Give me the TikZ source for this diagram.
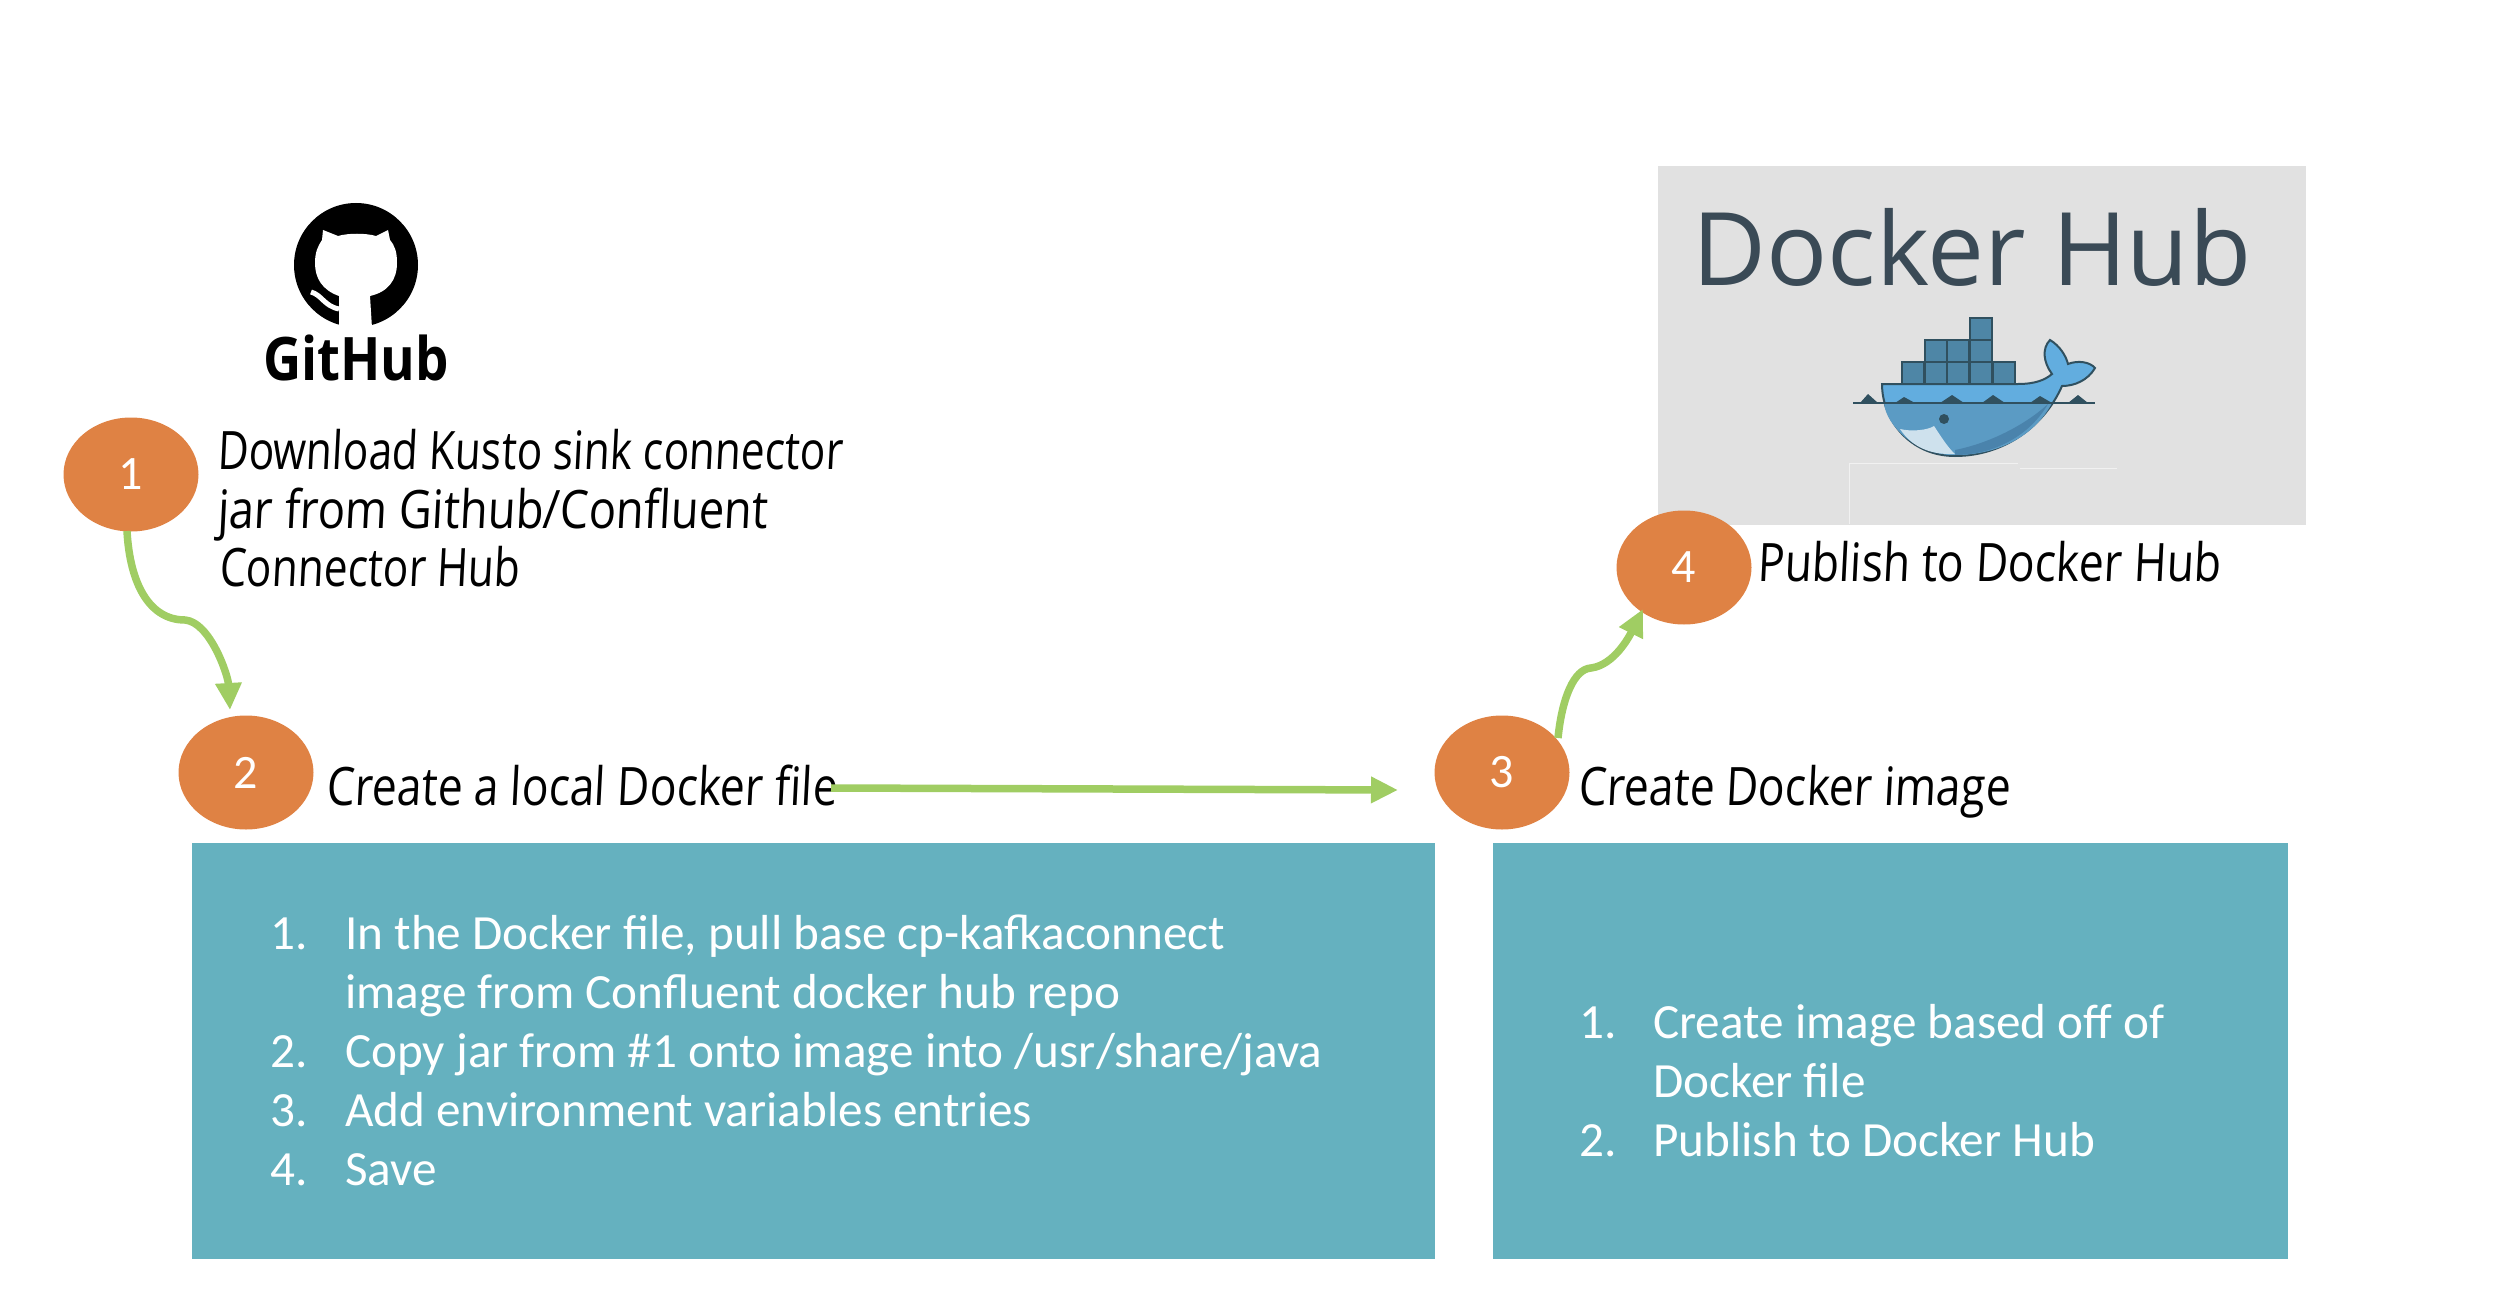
\documentclass[tikz,border=0pt]{standalone}
\usepackage{fontspec}
\usetikzlibrary{shapes.geometric,arrows.meta}
\setmainfont{Carlito}
\newfontfamily\handfont[FakeSlant=0.05,FakeStretch=0.80]{Open Sans}
\newfontfamily\handfontb[FakeSlant=0.05,FakeStretch=0.84]{Open Sans}
\newfontfamily\handfontc[FakeSlant=0.05,FakeStretch=0.857]{Open Sans}
\newfontfamily\logofont{Open Sans}
\newfontfamily\ghfont[FakeStretch=0.88]{Open Sans Bold}
\definecolor{tealbox}{HTML}{65B1BF}
\definecolor{orangedot}{HTML}{DF8244}
\definecolor{greenarrow}{HTML}{A0CD63}
\definecolor{hubgrey}{HTML}{E1E1E1}
\definecolor{hubtext}{HTML}{3A4A56}
\definecolor{whaleblue}{HTML}{5B9BC4}
\definecolor{whalelight}{HTML}{62ADDF}
\definecolor{whaledark}{HTML}{4A83AC}
\definecolor{crate}{HTML}{4E86A6}
\definecolor{whaleline}{HTML}{30505F}
\tikzset{
  x=1pt,y=-1pt,
  dot/.style={ellipse,fill=orangedot,minimum width=135pt,minimum height=114pt,inner sep=0pt,text=white,font=\fontsize{48}{48}\selectfont},
  hand/.style={anchor=base west,inner sep=0pt,text=black,font=\handfont\fontsize{53}{58.6}\selectfont},
  handb/.style={anchor=base west,inner sep=0pt,text=black,font=\handfontb\fontsize{53}{58.6}\selectfont},
  handc/.style={anchor=base west,inner sep=0pt,text=black,font=\handfontc\fontsize{53}{58.6}\selectfont},
  panel/.style={fill=tealbox,inner sep=0pt,anchor=north west},
  flow/.style={draw=greenarrow,line width=7.5pt,-{Triangle[length=27pt,width=25pt]}},
  body/.style={anchor=base west,inner sep=0pt,text=white,font=\fontsize{49.2}{59}\selectfont},
}
\begin{document}
\begin{tikzpicture}
\useasboundingbox (0,0) rectangle (2504,1292);
% panels
\node[panel,minimum width=1243pt,minimum height=416pt] (p1) at (192,843) {};
\node[panel,minimum width=795pt,minimum height=416pt] (p2) at (1493,843) {};
% docker hub
\node[panel,fill=hubgrey,minimum width=648pt,minimum height=359pt] (hub) at (1658,166) {};
\node[anchor=base,inner sep=0pt,text=hubtext,font=\logofont\fontsize{101.5}{100}\selectfont] (hubt) at (1972,285) {Docker Hub};
% faint lines
\draw[white!55!hubgrey,line width=1pt] (1849,524) -- (1849,463) -- (2018,463) (2020,468) -- (2117,468);
% whale
\begin{scope}[shift={(1840,300)}]
  \foreach \xa/\ya in {62/62,84.7/62,107.4/62,130/62,152.7/62,84.7/40,107.4/40,130/40,130/17.5}
    \fill[crate,draw=whaleline,line width=2pt] (\xa,\ya) rectangle ++(22,22);
  % hull and tail
  \fill[whalelight,draw=whaleline,line width=2pt] (42,84) -- (178,84) .. controls (195,84) and (205,80) .. (212,74)
     .. controls (203,62) and (202,48) .. (210,40) .. controls (220,46) and (226,56) .. (228,64)
     .. controls (238,60) and (250,62) .. (255,68) .. controls (248,80) and (235,86) .. (222,86)
     .. controls (205,125) and (165,156) .. (115,156) .. controls (70,156) and (42,120) .. (42,84) -- cycle;
  \fill[whaleblue] (44,103) -- (212,103) .. controls (195,135) and (160,155) .. (115,155) .. controls (75,155) and (46,125) .. (44,103) -- cycle;
  \fill[whaledark] (115,150) .. controls (150,143) and (185,125) .. (208,104) .. controls (190,135) and (155,155) .. (115,155) -- cycle;
  \fill[white!70!whaleblue] (60,129) .. controls (72,132) and (88,130) .. (94,126) .. controls (100,135) and (108,148) .. (115,154) .. controls (90,155) and (72,147) .. (60,129) -- cycle;
  \draw[whaleline,line width=2.5pt] (13,103) -- (255,103);
  \fill[whaleline] (20,103) -- (28,94) -- (38,103) -- cycle (55,103) -- (64,97) -- (75,103) -- cycle
    (100,103) -- (112,95) -- (124,103) -- cycle (142,103) -- (153,95) -- (165,103) -- cycle
    (190,103) -- (200,96) -- (212,103) -- cycle (228,103) -- (238,95) -- (248,103) -- cycle;
  \fill[whaleline] (104,119) circle (5pt);
\end{scope}
% github logo
\fill[black] (356,265) circle (62pt);
\fill[white] (344,328) -- (339,328) -- (339,296) .. controls (322,290) and (315,278) .. (315,263)
  .. controls (315,252) and (318,246) .. (322,240) -- (323,230) -- (338,236)
  .. controls (348,233) and (366,233) .. (376,236) -- (388,230) -- (390,240)
  .. controls (395,246) and (397,252) .. (397,263) .. controls (397,280) and (388,292) .. (370,296)
  -- (372,328) -- cycle;
\draw[white,line width=5pt] (311,292) .. controls (322,295) and (324,306) .. (339,309);
\node[anchor=base,inner sep=0pt,text=black,font=\ghfont\fontsize{60}{60}\selectfont] (gh) at (356,380) {GitHub};
% dots
\node[dot] (n1) at (131,474.5) {1};
\node[dot] (n2) at (246,772.5) {2};
\node[dot] (n3) at (1502,772.5) {3};
\node[dot] (n4) at (1684,567.5) {4};
% labels
\node[hand] (t1a) at (217,469) {Download Kusto sink connector};
\node[handc] (t1b) at (217,528) {jar from Github/Confluent};
\node[hand] (t1c) at (219,586) {Connector Hub};
\node[handb] (t2) at (326,805) {Create a local Docker file};
\node[handb] (t3) at (1578,805) {Create Docker image};
\node[handb] (t4) at (1757,581) {Publish to Docker Hub};
% connectors
\coordinate (c1a) at (127,531);
\coordinate (c1m) at (185,620);
\coordinate (c2e) at (230,710);
\coordinate (c3a) at (1558,738);
\coordinate (c3m) at (1591,668);
\coordinate (c4e) at (1643,609);
\coordinate (h1) at (831,788);
\coordinate (h2) at (1398,790);
\draw[flow] (c1a) .. controls (130,585) and (150,620) .. (c1m) .. controls (210,622) and (228,675) .. (c2e);
\draw[flow] (c3a) .. controls (1562,698) and (1574,669) .. (c3m) .. controls (1614,665) and (1629,637) .. (c4e);
\draw[flow] (h1) -- (h2);
% lists
\node[body] (a1) at (270,949) {1.};
\node[body] (a2) at (345,949) {In the Docker file, pull base cp-kafkaconnect};
\node[body] (a3) at (345,1008) {image from Confluent docker hub repo};
\node[body] (a4) at (270,1067) {2.};
\node[body] (a5) at (345,1067) {Copy jar from \#1 onto image into /usr/share/java};
\node[body] (a6) at (270,1126) {3.};
\node[body] (a7) at (345,1126) {Add environment variables entries};
\node[body] (a8) at (270,1185) {4.};
\node[body] (a9) at (345,1185) {Save};
\node[body] (b1) at (1579,1038) {1.};
\node[body] (b2) at (1653,1038) {Create image based off of};
\node[body] (b3) at (1653,1097) {Docker file};
\node[body] (b4) at (1579,1156) {2.};
\node[body] (b5) at (1653,1156) {Publish to Docker Hub};
\end{tikzpicture}
\end{document}
